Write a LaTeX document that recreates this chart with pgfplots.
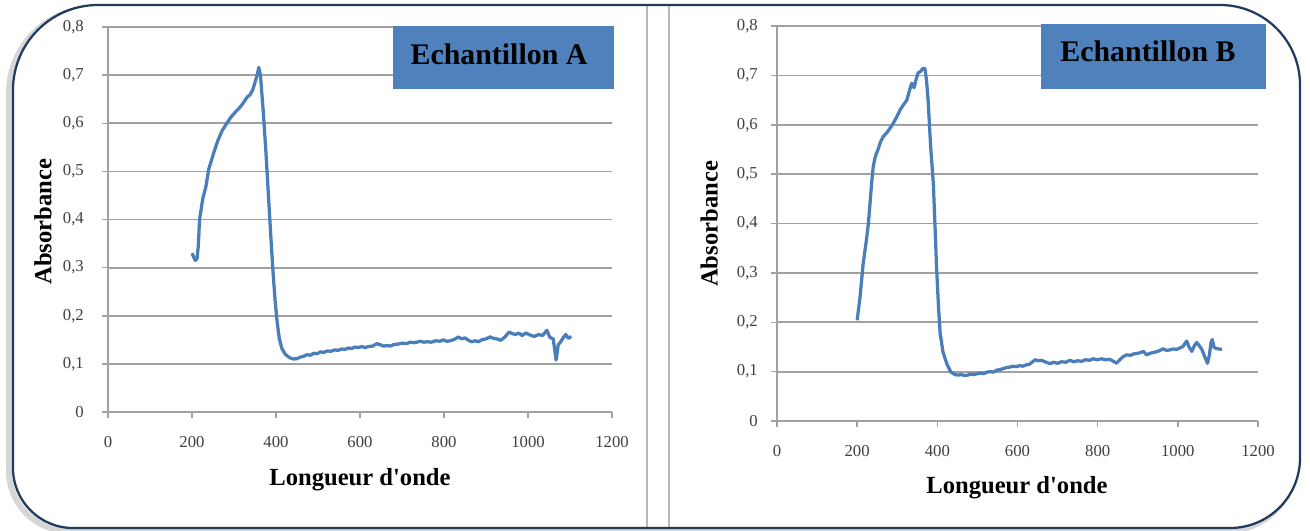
\documentclass[border=0pt]{standalone}
\usepackage{pgfplots}
\pgfplotsset{compat=1.18}
\usepackage{fontspec}
\setmainfont{Liberation Serif}[Ligatures=TeXOff]
\definecolor{lineblue}{HTML}{4A7EBB}
\definecolor{boxblue}{HTML}{4F81BD}
\definecolor{gridgray}{HTML}{A0A0A0}
\definecolor{framenavy}{HTML}{1F3B5E}
\definecolor{ticktext}{HTML}{404040}

\pgfplotstableread{
x y
200 0.330
204 0.322
208 0.315
212 0.318
215 0.345
218 0.400
226 0.445
233 0.468
240 0.505
253 0.542
262 0.565
272 0.585
283 0.600
292 0.612
302 0.622
314 0.633
322 0.642
332 0.655
338 0.659
344 0.668
349 0.682
355 0.700
359 0.716
363 0.700
370 0.620
376 0.540
382 0.450
388 0.360
393 0.290
398 0.230
403 0.185
408 0.152
414 0.132
422 0.120
432 0.113
442 0.110
450 0.111
458 0.114
466 0.116
474 0.119
482 0.118
490 0.122
498 0.121
506 0.125
514 0.124
522 0.127
530 0.126
540 0.129
548 0.128
556 0.131
564 0.130
572 0.133
580 0.132
588 0.135
596 0.134
604 0.136
612 0.134
620 0.136
630 0.137
640 0.142
648 0.140
656 0.137
664 0.138
672 0.137
680 0.140
690 0.141
700 0.143
710 0.142
720 0.145
730 0.144
744 0.147
752 0.145
760 0.146
770 0.145
780 0.148
790 0.147
798 0.150
806 0.147
815 0.148
825 0.151
834 0.156
842 0.152
850 0.154
858 0.149
866 0.146
874 0.148
882 0.146
890 0.150
900 0.152
910 0.156
918 0.153
926 0.152
935 0.149
944 0.155
955 0.166
962 0.163
970 0.161
978 0.164
986 0.159
995 0.164
1005 0.160
1015 0.157
1025 0.161
1035 0.159
1045 0.170
1052 0.155
1060 0.152
1067 0.108
1072 0.140
1078 0.146
1085 0.156
1090 0.161
1096 0.153
1103 0.157
}\dataA

\pgfplotstableread{
x y
200 0.204
207 0.250
215 0.319
222 0.360
228 0.400
236 0.481
240 0.515
245 0.535
252 0.550
258 0.565
265 0.576
275 0.585
282 0.593
290 0.603
300 0.618
307 0.630
315 0.640
324 0.650
330 0.668
336 0.684
342 0.675
347 0.692
352 0.705
358 0.708
364 0.714
369 0.714
373 0.690
377 0.650
383 0.560
390 0.481
394 0.400
398 0.312
403 0.230
407 0.178
414 0.140
424 0.115
434 0.099
444 0.094
452 0.093
460 0.094
468 0.092
476 0.093
484 0.095
492 0.094
500 0.096
508 0.097
516 0.096
524 0.099
532 0.100
540 0.099
548 0.103
556 0.104
564 0.106
572 0.108
580 0.109
589 0.111
597 0.110
605 0.112
613 0.111
623 0.114
630 0.115
636 0.119
644 0.124
652 0.122
660 0.123
668 0.120
675 0.118
681 0.116
690 0.119
700 0.117
710 0.120
720 0.119
731 0.123
740 0.120
750 0.122
760 0.121
770 0.124
780 0.123
789 0.126
798 0.124
810 0.126
820 0.124
830 0.125
839 0.121
847 0.117
855 0.124
863 0.130
872 0.134
882 0.133
890 0.136
900 0.137
908 0.139
914 0.141
922 0.134
930 0.137
940 0.139
950 0.141
963 0.146
972 0.143
980 0.144
990 0.146
997 0.145
1005 0.148
1013 0.151
1022 0.162
1028 0.150
1035 0.141
1041 0.152
1047 0.159
1054 0.152
1060 0.145
1067 0.130
1074 0.117
1079 0.135
1083 0.160
1086 0.165
1090 0.150
1095 0.147
1102 0.146
1110 0.145
}\dataB

\pgfplotsset{specstyle/.style={
  scale only axis,
  xmin=0, xmax=1200, ymin=0, ymax=0.8,
  axis x line*=bottom, axis y line*=left,
  xtick={0,200,400,600,800,1000,1200},
  ytick={0,0.1,0.2,0.3,0.4,0.5,0.6,0.7,0.8},
  ymajorgrids,
  grid style={gridgray, line width=0.35mm},
  axis line style={gridgray, line width=0.35mm},
  tick style={gridgray, line width=0.3mm},
  tick align=outside, major tick length=1.2mm,
  ticklabel style={font=\fontsize{9.5}{10}\selectfont, text=ticktext},
  /pgf/number format/assume math mode=true,
  /pgf/number format/use comma,
  /pgf/number format/fixed,
  /pgf/number format/precision=1,
  /pgf/number format/1000 sep={},
  label style={font=\fontsize{14}{16}\selectfont\bfseries},
  xticklabel style={yshift=-2.5mm},
}}

\begin{document}
\begin{tikzpicture}
\useasboundingbox (0,0) rectangle (262mm,106.2mm);
\fill[white] (0,0) rectangle (262mm,106.2mm);
% frame shadow (outside, left and bottom)
\draw[black, opacity=0.16, line width=1.2mm, shift={(-0.8mm,-0.6mm)}]
  (2.6mm,12.6mm) -- (2.6mm,88.2mm) arc[start angle=180,end angle=90,radius=17mm]
  -- (244mm,105.2mm) arc[start angle=90,end angle=0,radius=16mm]
  -- (260mm,14.6mm) arc[start angle=0,end angle=-90,radius=14mm]
  -- (14.6mm,0.6mm) arc[start angle=270,end angle=180,radius=12mm] -- cycle;
\fill[white]
  (2.6mm,12.6mm) -- (2.6mm,88.2mm) arc[start angle=180,end angle=90,radius=17mm]
  -- (244mm,105.2mm) arc[start angle=90,end angle=0,radius=16mm]
  -- (260mm,14.6mm) arc[start angle=0,end angle=-90,radius=14mm]
  -- (14.6mm,0.6mm) arc[start angle=270,end angle=180,radius=12mm] -- cycle;
% dividers
\draw[gray!55, line width=0.4mm] (129.4mm,0.8mm) -- (129.4mm,105mm);
\draw[gray!55, line width=0.4mm] (133.8mm,0.8mm) -- (133.8mm,105mm);

\begin{axis}[specstyle,
  at={(21.6mm,23.8mm)}, anchor=south west,
  width=100.8mm, height=77mm,
  yticklabel style={xshift=-2.4mm},
  xlabel={Longueur d'onde},
  xlabel style={at={(axis description cs:0.5,-0.177)}, anchor=center},
  ylabel={Absorbance},
  ylabel style={at={(axis description cs:-0.129,0.494)}, anchor=center},
]
\addplot[lineblue, line width=0.65mm, line join=round, no marks] table[x=x,y=y] {\dataA};
\end{axis}

\begin{axis}[specstyle,
  at={(155.4mm,22mm)}, anchor=south west,
  width=96.2mm, height=79mm,
  yticklabel style={xshift=-1.4mm},
  xlabel={Longueur d'onde},
  xlabel style={at={(axis description cs:0.499,-0.17)}, anchor=center},
  ylabel={Absorbance},
  ylabel style={at={(axis description cs:-0.141,0.499)}, anchor=center},
]
\addplot[lineblue, line width=0.65mm, line join=round, no marks] table[x=x,y=y] {\dataB};
\end{axis}

% title boxes
\fill[boxblue] (78.6mm,88.4mm) rectangle (122.8mm,101mm);
\node[font=\fontsize{17}{19}\selectfont\bfseries] at (99.8mm,95.4mm) {Echantillon A};
\fill[boxblue] (208.2mm,88.4mm) rectangle (253.2mm,101.4mm);
\node[font=\fontsize{17}{19}\selectfont\bfseries] at (229.6mm,96mm) {Echantillon B};

% frame
\draw[framenavy, line width=0.45mm]
  (2.6mm,12.6mm) -- (2.6mm,88.2mm) arc[start angle=180,end angle=90,radius=17mm]
  -- (244mm,105.2mm) arc[start angle=90,end angle=0,radius=16mm]
  -- (260mm,14.6mm) arc[start angle=0,end angle=-90,radius=14mm]
  -- (14.6mm,0.6mm) arc[start angle=270,end angle=180,radius=12mm] -- cycle;
\end{tikzpicture}
\end{document}
